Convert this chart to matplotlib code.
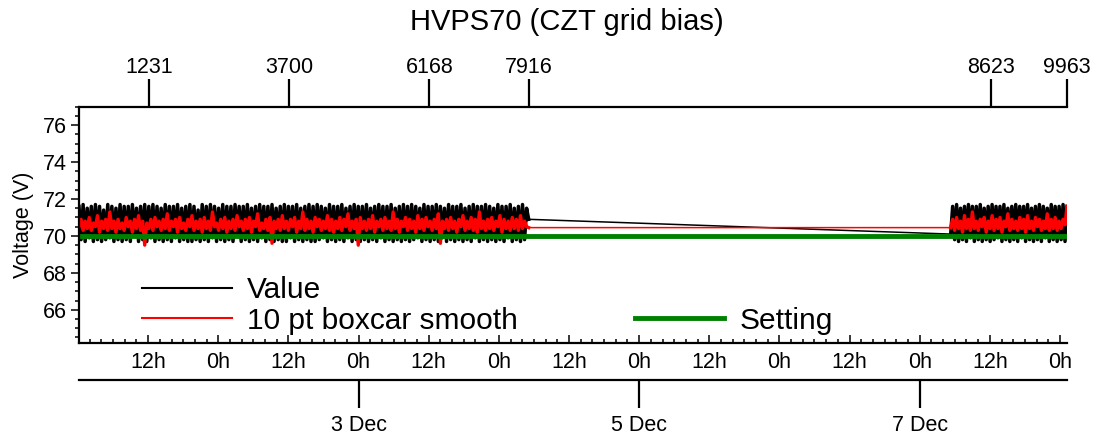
import numpy as np
import matplotlib
matplotlib.use('Agg')
import matplotlib.pyplot as plt
import matplotlib.dates as mdates
from matplotlib.lines import Line2D
from matplotlib.ticker import MultipleLocator, FixedLocator, FixedFormatter

plt.rcParams['font.family'] = ['Liberation Sans', 'DejaVu Sans']

# time span of the two recorded segments
seg_start = ['2010-12-01 00:10', '2010-12-07 05:18']
seg_end = ['2010-12-04 05:06', '2010-12-08 01:12']
# record numbers at the segment edges
rec_first = [0, 7917]
rec_last = [7916, 9963]
# labelled record numbers on the top axis
rec_ticks = [1231, 3700, 6168, 7916, 8623, 9963]

setting = 70.0

# HVPS70 read back value (decimated)
value_seg1 = [
    71.6, 69.8, 71.7, 69.7, 71.5, 69.9, 71.6, 69.7, 71.7, 69.8, 71.6, 69.7, 71.4, 69.8, 71.7, 69.9, 71.6, 69.7, 71.5, 69.8,
    71.7, 69.7, 71.6, 69.8, 71.6, 69.7, 71.7, 70.0, 71.5, 69.7, 71.6, 69.8, 71.7, 69.7, 71.6, 69.9, 71.7, 69.7, 71.6, 69.8,
    71.5, 69.7, 71.7, 69.8, 71.6, 69.7, 71.6, 69.9, 71.7, 69.7, 71.5, 69.8, 71.6, 69.7, 71.7, 69.7, 71.6, 69.8, 71.4, 69.7,
    71.7, 69.8, 71.6, 69.7, 71.7, 69.9, 71.6, 69.7, 71.5, 69.8, 71.7, 69.7, 71.6, 69.8, 71.6, 69.7, 71.7, 70.0, 71.6, 69.7,
    71.6, 69.8, 71.7, 69.7, 71.5, 69.8, 71.6, 69.7, 71.7, 69.9, 71.6, 69.7, 71.6, 69.8, 71.7, 69.7, 71.5, 69.8, 71.6, 69.7,
    71.7, 69.7, 71.6, 69.9, 71.6, 69.7, 71.7, 69.8, 71.5, 69.7, 71.6, 69.8, 71.7, 69.7, 71.6, 69.7, 71.7, 69.8, 71.6, 69.9,
    71.5, 69.7, 71.7, 69.8, 71.6, 69.7, 71.6, 69.8, 71.7, 69.7, 71.5, 69.9, 71.6, 69.7, 71.7, 69.8, 71.6, 69.7, 71.6, 69.8,
    71.7, 69.7, 71.5, 69.8, 71.6, 69.7, 71.7, 69.9, 71.6, 69.7, 71.6, 69.8, 71.7, 69.7, 71.5, 69.8, 71.6, 69.7, 71.7, 69.8,
    71.6, 69.7, 71.7, 69.8, 71.6, 69.9, 71.5, 69.7, 71.7, 69.8, 71.6, 69.7, 71.6, 69.8, 71.7, 69.7, 71.6, 69.9, 71.5, 69.7,
    71.7, 69.8, 71.6, 69.7, 71.6, 69.8, 71.7, 69.7, 71.5, 69.8, 71.6, 69.7, 71.7, 69.9, 71.6, 69.7, 71.6, 69.8, 71.7, 69.7,
    71.6, 69.8, 71.5, 69.7, 71.7, 69.8, 71.6, 69.7, 71.6, 69.9, 71.7, 69.7, 71.5, 69.8, 71.6, 69.7, 71.7, 69.8, 71.5, 70.9,
]
value_seg2 = [
    70.1, 71.6, 69.8, 71.7, 69.7, 71.5, 69.8, 71.6, 69.7, 71.7, 69.9, 71.6, 69.7, 71.6, 69.8, 71.7, 69.7, 71.5, 69.8, 71.6,
    69.7, 71.7, 69.8, 71.6, 69.9, 71.6, 69.7, 71.7, 69.8, 71.5, 69.7, 71.6, 69.8, 71.7, 69.7, 71.6, 69.9, 71.6, 69.7, 71.7,
    69.8, 71.5, 69.7, 71.6, 69.8, 71.7, 69.7, 71.6, 69.9, 71.5, 69.7, 71.7, 69.8, 71.6, 69.7, 71.6, 69.8, 71.7, 69.7, 71.6,
]

# 10 pt boxcar smooth of the value
smooth_seg1 = [
    70.5, 70.9, 70.3, 70.8, 70.4, 71.0, 70.3, 70.7, 70.5, 71.1, 70.2, 70.8, 70.4, 70.9, 70.3, 71.3, 70.4, 70.8, 70.2, 70.9,
    70.4, 70.7, 70.3, 71.0, 70.5, 70.8, 70.2, 70.9, 70.4, 71.1, 70.3, 70.8, 69.5, 70.7, 70.4, 70.9, 70.3, 71.0, 70.5, 70.8,
    70.3, 70.9, 70.4, 71.2, 70.3, 70.8, 70.5, 70.9, 70.2, 71.0, 70.4, 70.7, 70.3, 70.9, 70.5, 71.1, 70.3, 70.8, 70.4, 70.9,
    70.2, 71.0, 70.4, 70.8, 70.3, 71.3, 70.5, 70.7, 70.3, 70.9, 70.4, 71.0, 70.2, 70.8, 70.4, 70.9, 70.3, 71.1, 70.5, 70.8,
    70.3, 70.9, 70.4, 71.0, 70.2, 70.8, 70.5, 71.2, 70.3, 70.7, 70.4, 70.9, 70.3, 71.0, 69.6, 70.8, 70.4, 70.9, 70.3, 71.1,
    70.4, 70.8, 70.3, 70.9, 70.5, 71.0, 70.2, 70.8, 70.4, 71.3, 70.3, 70.9, 70.4, 70.8, 70.2, 71.0, 70.5, 70.9, 70.3, 70.8,
    70.4, 71.1, 70.3, 70.9, 70.2, 70.8, 70.4, 71.0, 70.3, 70.9, 70.5, 71.2, 70.3, 70.8, 70.4, 70.9, 69.5, 71.0, 70.4, 70.8,
    70.3, 70.9, 70.4, 71.1, 70.2, 70.8, 70.5, 70.9, 70.3, 71.0, 70.4, 70.8, 70.3, 71.3, 70.4, 70.9, 70.2, 70.8, 70.5, 71.0,
    70.3, 70.9, 70.4, 70.8, 70.2, 71.1, 70.4, 70.9, 70.3, 71.0, 70.5, 70.8, 70.3, 70.9, 70.4, 71.2, 69.6, 70.8, 70.4, 70.9,
    70.3, 71.0, 70.4, 70.8, 70.2, 70.9, 70.5, 71.1, 70.3, 70.8, 70.4, 71.0, 70.3, 70.9, 70.2, 71.3, 70.4, 70.8, 70.3, 70.9,
    70.4, 71.0, 70.3, 70.8, 70.5, 71.1, 70.2, 70.9, 70.4, 70.8, 70.3, 71.0, 70.4, 70.9, 70.3, 71.1, 70.4, 70.8, 70.5, 70.45,
]
smooth_seg2 = [
    70.45, 70.9, 70.3, 71.0, 70.4, 70.8, 70.2, 71.1, 70.4, 70.9, 70.3, 71.3, 70.4, 70.8, 70.3, 70.9, 70.5, 71.0, 70.2, 70.8,
    70.4, 71.1, 70.3, 70.9, 70.4, 71.0, 70.2, 70.8, 70.5, 71.2, 70.3, 70.9, 70.4, 70.8, 70.3, 71.0, 70.4, 70.9, 70.2, 71.1,
    70.4, 70.8, 70.3, 71.0, 70.5, 70.9, 70.3, 70.8, 70.4, 71.2, 70.3, 70.9, 70.4, 71.0, 70.3, 70.8, 70.4, 70.9, 70.6, 71.6,
]

t_start = mdates.datestr2num(seg_start)
t_end = mdates.datestr2num(seg_end)

# samples are evenly spaced within each segment
tv1 = np.linspace(t_start[0], t_end[0], len(value_seg1))
tv2 = np.linspace(t_start[1], t_end[1], len(value_seg2))
ts1 = np.linspace(t_start[0], t_end[0], len(smooth_seg1))
ts2 = np.linspace(t_start[1], t_end[1], len(smooth_seg2))
t_set = [t_start[0], t_end[0], t_start[1], t_end[1]]
v_set = [setting] * 4

# record number -> time for the top axis
rec_edges = [rec_first[0], rec_last[0], rec_first[1], rec_last[1]]
t_rec_ticks = np.interp(rec_ticks, rec_edges, t_set)

W, H = 1099, 442
fig = plt.figure(figsize=(W / 100, H / 100), dpi=100)
ax = fig.add_axes([79 / W, 1 - 343 / H, 988 / W, 236.3 / H])

# whole trace thin (gives the line across the gap), segments drawn heavier so the dense noise fills in
ax.plot(np.concatenate([tv1, tv2]), value_seg1 + value_seg2, color='black', lw=1.1)
ax.plot(tv1, value_seg1, color='black', lw=2.5)
ax.plot(tv2, value_seg2, color='black', lw=2.5)
ax.plot(np.concatenate([ts1, ts2]), smooth_seg1 + smooth_seg2, color='red', lw=1.1)
ax.plot(ts1, smooth_seg1, color='red', lw=2.4)
ax.plot(ts2, smooth_seg2, color='red', lw=2.4)
ax.plot(t_set, v_set, color='#008000', lw=3.5)

xlim = (t_start[0], t_end[1])
ax.set_xlim(xlim)
ax.set_ylim(64.2, 77.0)

for s in ['top', 'right']:
    ax.spines[s].set_visible(False)
for s in ['left', 'bottom']:
    ax.spines[s].set_linewidth(1.6)

ax.yaxis.set_major_locator(MultipleLocator(2))
ax.yaxis.set_minor_locator(MultipleLocator(0.5))
ax.tick_params(axis='y', which='major', direction='out', length=6, width=1.1, labelsize=15.5, pad=3)
ax.tick_params(axis='y', which='minor', direction='out', length=3, width=1.1)
ax.set_ylabel('Voltage (V)', fontsize=15.5)
ax.yaxis.set_label_coords(-45 / 988, 0.5)

ax.xaxis.set_major_locator(mdates.HourLocator(byhour=[0, 12]))
ax.xaxis.set_minor_locator(mdates.HourLocator(byhour=range(0, 24, 2)))
ax.xaxis.set_major_formatter(mdates.DateFormatter('%-Hh'))
ax.tick_params(axis='x', which='major', direction='in', length=6, width=1.1, labelsize=15.5, pad=6.5)
ax.tick_params(axis='x', which='minor', direction='in', length=3, width=1.1)

# date axis below
ax_date = ax.twiny()
ax_date.set_xlim(xlim)
for s in ['top', 'right', 'left']:
    ax_date.spines[s].set_visible(False)
ax_date.spines['bottom'].set_position(('outward', 26.6))
ax_date.spines['bottom'].set_linewidth(1.6)
ax_date.xaxis.set_ticks_position('bottom')
ax_date.xaxis.set_label_position('bottom')
ax_date.xaxis.set_major_locator(mdates.DayLocator(bymonthday=[3, 5, 7]))
ax_date.xaxis.set_major_formatter(mdates.DateFormatter('%-d %b'))
ax_date.tick_params(axis='x', direction='out', length=20, width=1.6, labelsize=15.5, pad=5.5)

# record number axis on top
ax_rec = ax.twiny()
ax_rec.set_xlim(xlim)
for s in ['bottom', 'right', 'left']:
    ax_rec.spines[s].set_visible(False)
ax_rec.spines['top'].set_linewidth(1.6)
ax_rec.xaxis.set_major_locator(FixedLocator(t_rec_ticks))
ax_rec.xaxis.set_major_formatter(FixedFormatter([str(r) for r in rec_ticks]))
ax_rec.tick_params(axis='x', direction='out', length=20, width=1.6, labelsize=15.5, pad=1)

fig.text(567 / W, 1 - 22 / H, 'HVPS70 (CZT grid bias)', ha='center', va='center', fontsize=21)

handles = [Line2D([], [], color='black', lw=1.5),
           Line2D([], [], color='red', lw=1.5),
           Line2D([], [], color='none'),
           Line2D([], [], color='#008000', lw=3.5)]
labels = ['Value', '10 pt boxcar smooth', '', 'Setting']
ax.legend(handles, labels, ncol=2, frameon=False, fontsize=21.5, handlelength=3.0,
          handletextpad=0.5, columnspacing=3.93, labelspacing=0.08, borderpad=0,
          borderaxespad=0, loc='upper left', bbox_to_anchor=(63 / 988, 0.2815))

fig.savefig('out.png', dpi=100)
